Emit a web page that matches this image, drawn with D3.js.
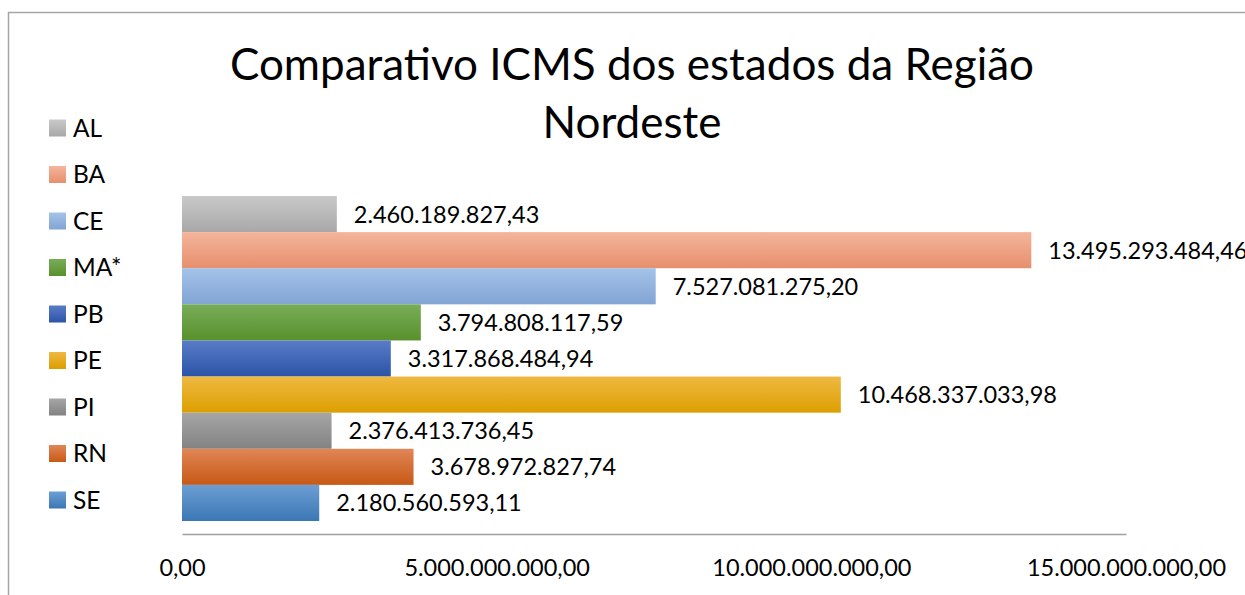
<!DOCTYPE html>
<html><head><meta charset="utf-8">
<script src="https://cdn.jsdelivr.net/npm/d3@7"></script>
<style>
html,body{margin:0;padding:0;background:#fff;}
text{font-family:Lato,"Open Sans",sans-serif;fill:#000;}
</style></head>
<body>
<svg id="chart" width="1245" height="595"></svg>
<script>
const categories = ["AL","BA","CE","MA*","PB","PE","PI","RN","SE"];
const values = [2460189827.43, 13495293484.46, 7527081275.20, 3794808117.59, 3317868484.94, 10468337033.98, 2376413736.45, 3678972827.74, 2180560593.11];
const colorsTop = ["#c9c9c9","#f4b59b","#a4c3e9","#79ac59","#5a7cc6","#efb842","#a6a6a6","#e08656","#6c9ed3"];
const colorsBottom = ["#a8a8a8","#e78f6d","#82a4d4","#58912c","#2b54a7","#dc9f00","#828282","#c75916","#3b77b4"];
const tickValues = [0, 5000000000, 10000000000, 15000000000];
const titleLines = ["Comparativo ICMS dos estados da Região","Nordeste"];

const locale = d3.formatLocale({decimal:",", thousands:".", grouping:[3], currency:["",""]});
const fmt = locale.format(",.2f");

const svg = d3.select("#chart");
const defs = svg.append("defs");
categories.forEach((c,i)=>{
  const g = defs.append("linearGradient").attr("id","g"+i)
    .attr("x1",0).attr("y1",0).attr("x2",0).attr("y2",1);
  g.append("stop").attr("offset","0%").attr("stop-color",colorsTop[i]);
  g.append("stop").attr("offset","100%").attr("stop-color",colorsBottom[i]);
});

// border
svg.append("path").attr("d","M1250,12.5H8.5V600").attr("fill","none")
  .attr("stroke","#a6a6a6").attr("stroke-width",1.5);

// title
svg.append("g").selectAll("text").data(titleLines).join("text")
  .attr("x",632).attr("y",(d,i)=>80+i*58)
  .attr("text-anchor","middle").style("font-size","44px").text(d=>d);

const x = d3.scaleLinear().domain([0,15000000000]).range([182,1126]);
const y = d3.scaleBand().domain(categories).range([196,521]).padding(0);

// bars
svg.append("g").selectAll("rect").data(categories).join("rect")
  .attr("x",x(0)).attr("y",d=>y(d))
  .attr("width",(d,i)=>x(values[i])-x(0)).attr("height",y.bandwidth())
  .attr("fill",(d,i)=>`url(#g${i})`);

// data labels
svg.append("g").selectAll("text").data(categories).join("text")
  .attr("x",(d,i)=>x(values[i])+17).attr("y",d=>y(d)+y.bandwidth()/2)
  .attr("dy","0.36em").style("font-size","23.5px")
  .text((d,i)=>fmt(values[i]));

// axis
const ax = svg.append("g").attr("transform","translate(0,534)")
  .call(d3.axisBottom(x).tickValues(tickValues).tickSize(0).tickPadding(0).tickFormat(fmt));
ax.select(".domain").attr("stroke","#a0a0a0").attr("stroke-width",1.5);
ax.selectAll("text").attr("y",34).attr("dy","0.36em").style("font-size","23.5px")
  .style("font-family","Lato, sans-serif").attr("fill","#000");

// legend
const leg = svg.append("g").selectAll("g").data(categories).join("g")
  .attr("transform",(d,i)=>`translate(49,${128+i*46.5})`);
leg.append("rect").attr("x",0).attr("y",-8.5).attr("width",17).attr("height",17)
  .attr("fill",(d,i)=>`url(#g${i})`);
leg.append("text").attr("x",24).attr("y",0).attr("dy","0.36em")
  .style("font-size","24.5px").text(d=>d);
</script>
</body></html>
